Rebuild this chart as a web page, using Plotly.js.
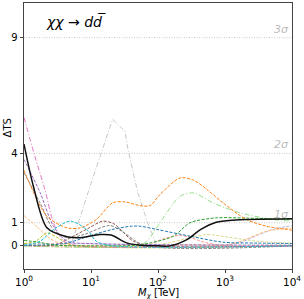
<!DOCTYPE html>
<html><head><meta charset="utf-8">
<script src="https://cdn.plot.ly/plotly-3.0.1.min.js"></script>
<style>html,body{margin:0;padding:0;background:#fff}#c{width:304px;height:299px}</style>
</head><body><div id="c"></div>
<script>
// Data: M_chi in TeV, Delta TS
const blackM = [1, 1.38, 2.2, 4.4, 6.9, 13.5, 20, 34, 54, 100, 150, 270, 430, 740, 1300, 10000];
const blackT = [4.4, 2.58, 0.78, 0.39, 0.35, 0.49, 0.47, 0.13, 0.03, 0, 0, 0.27, 0.7, 1.02, 1.11, 1.17];
const orangeM = [1, 2.2, 4.4, 6.9, 12, 21, 32, 54, 76, 107, 214, 339, 537, 933, 2090, 4170, 10000];
const orangeT = [3.27, 1.28, 0.78, 0.78, 1.14, 1.86, 1.9, 1.74, 1.74, 2.22, 2.94, 2.84, 2.44, 1.86, 1.14, 0.85, 0.68];
const lgrayM = [1, 3.5, 5, 10, 21, 32, 36, 50, 70, 95, 200, 10000];
const lgrayT = [0, 0, 0, 2.7, 5.47, 4.96, 4.1, 2.3, 1.0, 0.05, 0, 0];
const pinkM = [1, 1.45, 2.05, 2.75, 3.9, 6, 10000];
const pinkT = [5.55, 3.88, 2.44, 1.0, 0.2, 0.02, 0];
const purpleM = [1, 1.74, 2.75, 4.4, 10, 100, 10000];
const purpleT = [3.74, 2.3, 0.85, 0.2, 0.1, 0.05, 0.03];
const dgrayM = [1, 1.74, 2.75, 4.4, 8, 19, 30, 63, 10000];
const dgrayT = [3.16, 1.86, 0.7, 0.35, 0.5, 0.88, 0.6, 0.02, 0];
const brownM = [1, 3, 4.9, 9, 15, 22, 43, 80, 10000];
const brownT = [0.02, 0.05, 0.35, 0.75, 1.07, 0.95, 0.2, 0.01, 0];
const blueM = [1, 4, 10, 20, 40, 54, 100, 300, 930, 3000, 10000];
const blueT = [0.03, 0.1, 0.45, 0.7, 0.85, 0.85, 0.7, 0.42, 0.16, 0.12, 0.1];
const cyanM = [1, 1.74, 2.75, 4.9, 8.7, 12, 20, 10000];
const cyanT = [0.02, 0.2, 0.7, 1.07, 0.7, 0.2, 0.01, 0];
const peachM = [1, 1.6, 2.5, 4, 10, 100, 300, 1170, 4170, 10000];
const peachT = [1.31, 0.8, 0.3, 0.05, 0, 0, 0.05, 0.05, 0.63, 0.78];
const lpurpleM = [1, 5, 100, 1000, 1700, 3000, 5000, 10000];
const lpurpleT = [0.1, 0.1, 0.05, 0.05, 0.15, 0.45, 0.7, 0.88];
const oliveM = [1, 1.5, 2.2, 3.2, 5, 10000];
const oliveT = [0.1, 0.2, 0.56, 0.35, 0.05, 0.02];
const lyellowM = [1, 100, 300, 540, 1000, 3000, 10000];
const lyellowT = [0.05, 0.05, 0.35, 0.49, 0.4, 0.2, 0.12];
const greenM = [1, 1.7, 3, 10, 54, 170, 300, 740, 2000, 10000];
const greenT = [0.24, 0.15, 0.03, 0, 0.05, 0.42, 1.0, 1.21, 1.2, 1.14];
const lgreenM = [1, 50, 68, 107, 214, 339, 660, 1660, 5250, 10000];
const lgreenT = [0, 0, 0.2, 1.0, 2.15, 2.29, 1.86, 1.43, 1.14, 1.07];
const lpinkM = [1, 70, 95, 214, 537, 1000, 10000];
const lpinkT = [0, 0, 0.2, 0.45, 0.13, 0.01, 0];

const sigmaLevels = [1, 4, 9];
const sigmaLabels = ['1σ', '2σ', '3σ'];
const yTicks = [0, 1, 4, 9];
const xTicks = [1, 10, 100, 1000, 10000];
const xTickText = ['10<sup>0</sup>', '10<sup>1</sup>', '10<sup>2</sup>', '10<sup>3</sup>', '10<sup>4</sup>'];

const dsh = '3px,1.5px';
function tr(x, y, color, opts) {
  opts = opts || {};
  return {x: x, y: y, type: 'scatter', mode: 'lines',
    line: {color: color, width: opts.w || 1, dash: opts.dash || dsh, shape: opts.shape || 'spline', smoothing: 0.8},
    showlegend: false, hoverinfo: 'skip'};
}
const traces = [
  tr(lgrayM, lgrayT, '#c7c7c7', {dash: '5px,2px,1px,2px', shape: 'linear'}),
  tr(lpinkM, lpinkT, '#ff9896'),
  tr(lyellowM, lyellowT, '#dbdb8d'),
  tr(lpurpleM, lpurpleT, '#c5b0d5'),
  tr(peachM, peachT, '#ffbb78'),
  tr(oliveM, oliveT, '#bcbd22'),
  tr(lgreenM, lgreenT, '#98df8a', {dash: '5px,2px,1px,2px'}),
  tr(brownM, brownT, '#8c564b'),
  tr(dgrayM, dgrayT, '#7f7f7f'),
  tr(purpleM, purpleT, '#9467bd'),
  tr(pinkM, pinkT, '#e377c2', {dash: '5px,2px,1px,2px'}),
  tr(blueM, blueT, '#1f77b4'),
  tr(greenM, greenT, '#2ca02c'),
  tr(orangeM, orangeT, '#ff7f0e'),
  tr(cyanM, cyanT, '#17becf'),
  tr(blackM, blackT, '#111111', {w: 1.5, dash: 'solid'})
];

const shapes = sigmaLevels.map(v => ({type: 'line', xref: 'paper', x0: 0, x1: 1, yref: 'y', y0: v, y1: v,
  line: {color: '#c8c8c8', width: 1, dash: '1px,1.5px'}, layer: 'below'}));
const annotations = sigmaLevels.map((v, i) => ({xref: 'paper', x: 0.995, xanchor: 'right', yref: 'y', y: v, yanchor: 'bottom',
  yshift: 0, text: '<i>' + sigmaLabels[i] + '</i>', showarrow: false, font: {family: 'DejaVu Sans', size: 11, color: '#bbbbbb'}}));
annotations.push({xref: 'paper', x: 0.075, xanchor: 'left', yref: 'paper', y: 0.93, yanchor: 'middle',
  text: '<i>χχ</i> → <i>d</i><i>d\u0305</i>', showarrow: false, font: {family: 'DejaVu Sans', size: 14, color: '#000'}});
annotations.push({xref: 'paper', x: 0.5, xanchor: 'center', yref: 'paper', y: -0.092, yanchor: 'middle',
  text: '<i>M</i><sub><i>χ</i></sub> [TeV]', showarrow: false, font: {family: 'DejaVu Sans', size: 10, color: '#000'}});
annotations.push({xref: 'paper', x: -0.062, xanchor: 'center', yref: 'paper', y: 0.53, yanchor: 'middle', textangle: -90,
  text: 'ΔTS', showarrow: false, font: {family: 'DejaVu Sans', size: 10, color: '#000'}});

const layout = {
  width: 304, height: 299,
  margin: {l: 24, r: 12, t: 3, b: 30},
  paper_bgcolor: '#fff', plot_bgcolor: '#fff',
  font: {family: 'DejaVu Sans', size: 10, color: '#000'},
  xaxis: {type: 'log', range: [0, 4], tickvals: xTicks, ticktext: xTickText, ticks: 'outside', ticklen: 3,
    showgrid: false, zeroline: false, showline: true, mirror: true, linecolor: '#444', linewidth: 1,
    tickfont: {size: 10.5}, automargin: false},
  yaxis: {range: [-1, 10.5], tickvals: yTicks, ticks: 'outside', ticklen: 3.5,
    showgrid: false, zeroline: false, showline: true, mirror: true, linecolor: '#444', linewidth: 1,
    tickfont: {size: 10}, automargin: false},
  shapes: shapes, annotations: annotations
};
Plotly.newPlot('c', traces, layout, {staticPlot: true, displayModeBar: false});
</script></body></html>
